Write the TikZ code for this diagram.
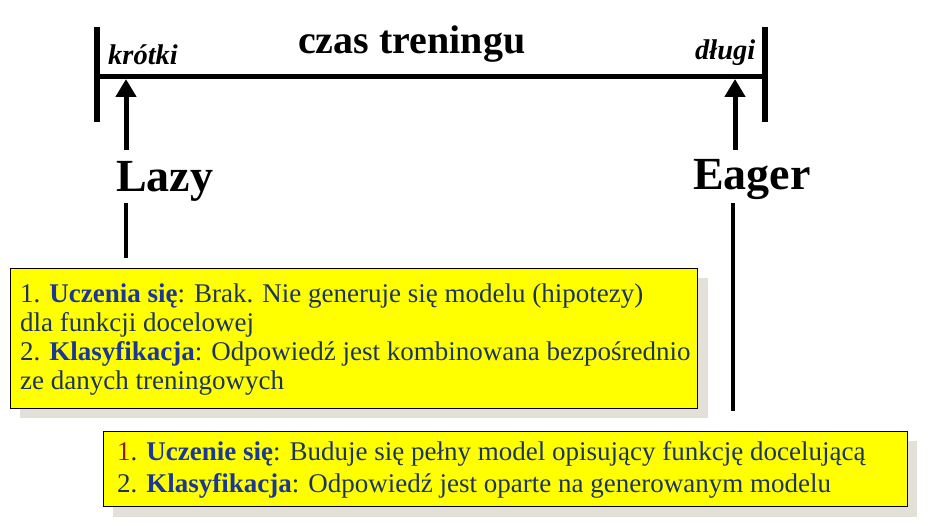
\documentclass[tikz,border=0pt]{standalone}
\usepackage{fontspec}
\setmainfont{Liberation Serif}
\usetikzlibrary{arrows.meta}
\definecolor{txtnavy}{RGB}{28,52,96}
\definecolor{boldblue}{RGB}{28,56,150}
\definecolor{numred}{RGB}{150,20,20}
\definecolor{shadowgray}{RGB}{226,224,216}
\definecolor{boxyellow}{RGB}{255,255,0}
\begin{document}
\begin{tikzpicture}[x=1pt,y=-1pt,
  bar/.style={line width=6pt},
  axisline/.style={line width=5pt},
  uparrow/.style={line width=5pt,-{Triangle[width=20pt,length=18pt]}},
  stem/.style={line width=3.5pt},
  infobox/.style={draw=black,line width=1.2pt,fill=boxyellow},
  shadowbox/.style={fill=shadowgray},
  boxtext/.style={anchor=base west,inner sep=0pt,text=txtnavy},
  bigword/.style={anchor=base west,inner sep=0pt,font=\fontsize{46}{50}\selectfont\bfseries},
  endword/.style={anchor=base west,inner sep=0pt,font=\fontsize{28.5}{30}\selectfont\bfseries\itshape}]
\useasboundingbox[fill=white] (0,0) rectangle (936,526);
% axis
\coordinate (bl1) at (97,27); \coordinate (bl2) at (97,122);
\coordinate (br1) at (765,27); \coordinate (br2) at (765,122);
\coordinate (al) at (97,77); \coordinate (ar) at (765,77);
\draw[bar] (bl1) -- (bl2);
\draw[bar] (br1) -- (br2);
\draw[axisline] (al) -- (ar);
\node[anchor=base west,inner sep=0pt,font=\fontsize{40}{44}\selectfont\bfseries] (title) at (298,54) {czas treningu};
\node[endword] (short) at (108,65) {krótki};
\node[endword] (long) at (695,60) {długi};
% arrows
\coordinate (lt) at (126,79); \coordinate (lb) at (126,150);
\coordinate (rt) at (735,79); \coordinate (rb) at (735,150);
\draw[uparrow] (lb) -- (lt);
\draw[uparrow] (rb) -- (rt);
\node[bigword] (lazy) at (116,192) {Lazy};
\node[bigword] (eager) at (693,190) {Eager};
\coordinate (ls1) at (126,203); \coordinate (ls2) at (126,258);
\coordinate (rs1) at (733,203); \coordinate (rs2) at (733,411);
\draw[stem] (ls1) -- (ls2);
\draw[stem] (rs1) -- (rs2);
% box 1
\fill[shadowbox] (20,278) rectangle (708,418);
\node[infobox,anchor=north west,minimum width=687pt,minimum height=140pt] (box1) at (10,268) {};
\begin{scope}[font=\fontsize{27}{29}\selectfont]
\node[boxtext] (b1l1) at (20,302) {1. \textbf{\color{boldblue}Uczenia się}: Brak. Nie generuje się modelu (hipotezy)};
\node[boxtext] (b1l2) at (20,331) {dla funkcji docelowej};
\node[boxtext] (b1l3) at (20,360) {2. \textbf{\color{boldblue}Klasyfikacja}: Odpowiedź jest kombinowana bezpośrednio};
\node[boxtext] (b1l4) at (20,389) {ze danych treningowych};
\end{scope}
% box 2
\fill[shadowbox] (113,441) rectangle (917,517);
\node[infobox,anchor=north west,minimum width=804pt,minimum height=75pt] (box2) at (103,431) {};
\begin{scope}[font=\fontsize{27}{30}\selectfont]
\node[boxtext] (b2l1) at (117,460) {{\color{numred}1}. \textbf{\color{boldblue}Uczenie się}: Buduje się pełny model opisujący funkcję docelującą};
\node[boxtext] (b2l2) at (117,492) {2. \textbf{\color{boldblue}Klasyfikacja}: Odpowiedź jest oparte na generowanym modelu};
\end{scope}
\end{tikzpicture}
\end{document}
